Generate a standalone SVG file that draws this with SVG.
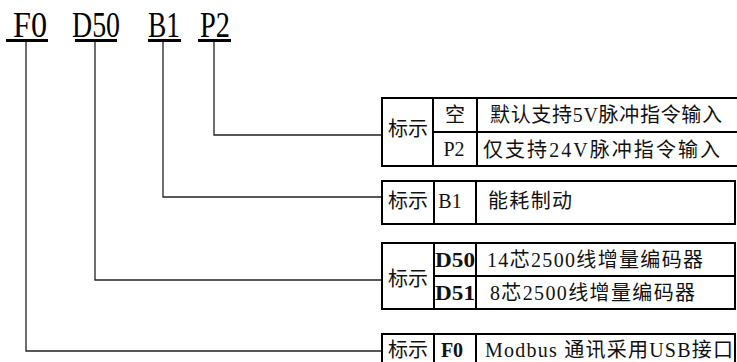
<svg xmlns="http://www.w3.org/2000/svg" width="737" height="362" viewBox="0 0 737 362">
<style>
.box{fill:none;stroke:#000;stroke-width:2}
.ln{fill:none;stroke:#000;stroke-width:2}
.con{fill:none;stroke:#222;stroke-width:1.3}
.ul{stroke:#000;stroke-width:3}
.t{font-family:"Liberation Serif","Noto Sans CJK SC",serif;font-size:20px;fill:#111;dominant-baseline:central}
.c{text-anchor:middle}
.b{font-weight:bold}
.h{font-family:"Liberation Serif",serif;font-size:36px;fill:#000}
</style>
<rect width="737" height="362" fill="#fff"/>
<g id="title">
<text class="h" x="13" y="37" textLength="34" lengthAdjust="spacingAndGlyphs">F0</text>
<text class="h" x="72" y="37" textLength="48" lengthAdjust="spacingAndGlyphs">D50</text>
<text class="h" x="148" y="37" textLength="32" lengthAdjust="spacingAndGlyphs">B1</text>
<text class="h" x="200" y="37" textLength="30" lengthAdjust="spacingAndGlyphs">P2</text>
<line class="ul" x1="6" y1="40.5" x2="48" y2="40.5"/>
<line class="ul" x1="75" y1="40.5" x2="117" y2="40.5"/>
<line class="ul" x1="148" y1="40.5" x2="181" y2="40.5"/>
<line class="ul" x1="198" y1="40.5" x2="231" y2="40.5"/>
</g>
<g id="connectors">
<polyline class="con" points="214,42 214,135 382,135"/>
<polyline class="con" points="163,42 163,197 382,197"/>
<polyline class="con" points="95,42 95,280 382,280"/>
<polyline class="con" points="26,42 26,351 382,351"/>
</g>
<g id="node-p2">
<rect class="box" x="382" y="98" width="370" height="68"/>
<line class="ln" x1="433" y1="98" x2="433" y2="166"/>
<line class="ln" x1="477" y1="98" x2="477" y2="166"/>
<line class="ln" x1="433" y1="132" x2="740" y2="132"/>
<text class="t c" x="408" y="129">标示</text>
<text class="t c" x="455" y="115">空</text>
<text class="t" x="490" y="115" textLength="232" lengthAdjust="spacing">默认支持5V脉冲指令输入</text>
<text class="t c" x="454" y="149">P2</text>
<text class="t" x="483" y="150" textLength="237" lengthAdjust="spacing">仅支持24V脉冲指令输入</text>
</g>
<g id="node-b1">
<rect class="box" x="382" y="181" width="353" height="43"/>
<line class="ln" x1="434" y1="181" x2="434" y2="224"/>
<line class="ln" x1="476" y1="181" x2="476" y2="224"/>
<text class="t c" x="408" y="201">标示</text>
<text class="t c" x="450" y="201">B1</text>
<text class="t" x="488" y="201" textLength="84" lengthAdjust="spacing">能耗制动</text>
</g>
<g id="node-d50">
<rect class="box" x="382" y="243" width="353" height="66"/>
<line class="ln" x1="434" y1="243" x2="434" y2="309"/>
<line class="ln" x1="476" y1="243" x2="476" y2="309"/>
<line class="ln" x1="434" y1="276" x2="735" y2="276"/>
<text class="t c" x="408" y="279">标示</text>
<text class="t c b" x="455" y="260" textLength="40" lengthAdjust="spacingAndGlyphs">D50</text>
<text class="t" x="487" y="260" textLength="216" lengthAdjust="spacing">14芯2500线增量编码器</text>
<text class="t c b" x="455" y="293" textLength="40" lengthAdjust="spacingAndGlyphs">D51</text>
<text class="t" x="490" y="293" textLength="205" lengthAdjust="spacing">8芯2500线增量编码器</text>
</g>
<g id="node-f0">
<rect class="box" x="382" y="334" width="353" height="40"/>
<line class="ln" x1="434" y1="334" x2="434" y2="374"/>
<line class="ln" x1="476" y1="334" x2="476" y2="374"/>
<text class="t c" x="408" y="350">标示</text>
<text class="t c b" x="452" y="350">F0</text>
<text class="t" x="485" y="350" textLength="248" lengthAdjust="spacing">Modbus 通讯采用USB接口</text>
</g>
</svg>
